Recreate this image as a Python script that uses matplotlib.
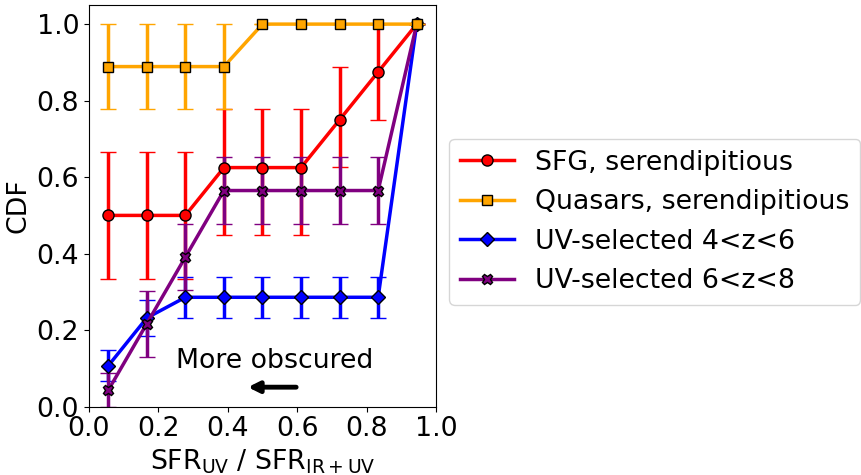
import numpy as np
import matplotlib
matplotlib.use('Agg')
import matplotlib.pyplot as plt
from matplotlib.lines import Line2D

# bin centres of SFR_UV / SFR_IR+UV
x_bins = [0.0556, 0.1667, 0.2778, 0.3889, 0.5, 0.6111, 0.7222, 0.8333, 0.9444]

sfg_cdf = [0.5, 0.5, 0.5, 0.625, 0.625, 0.625, 0.75, 0.875, 1.0]
sfg_err_lo = [0.167, 0.167, 0.167, 0.176, 0.176, 0.176, 0.124, 0.125, 0.0]
sfg_err_hi = [0.167, 0.167, 0.167, 0.154, 0.154, 0.154, 0.138, 0.125, 0.0]

qso_cdf = [0.889, 0.889, 0.889, 0.889, 1.0, 1.0, 1.0, 1.0, 1.0]
qso_err = [0.111, 0.111, 0.111, 0.111, 0.0, 0.0, 0.0, 0.0, 0.0]

uv46_cdf = [0.107, 0.232, 0.286, 0.286, 0.286, 0.286, 0.286, 0.286, 1.0]
uv46_err = [0.041, 0.048, 0.054, 0.054, 0.054, 0.054, 0.054, 0.054, 0.0]

uv68_cdf = [0.043, 0.217, 0.391, 0.565, 0.565, 0.565, 0.565, 0.565, 1.0]
uv68_err = [0.044, 0.086, 0.087, 0.087, 0.087, 0.087, 0.087, 0.087, 0.0]

plt.rcParams['font.size'] = 19.3

fig = plt.figure(figsize=(8.62, 4.75), dpi=100)
ax = fig.add_axes([0.1032, 0.1438, 0.4026, 0.8457])

kw = dict(lw=2.5, capsize=6, capthick=2, elinewidth=2.5, mec='k', mew=1)

ax.errorbar(x_bins, sfg_cdf, yerr=[sfg_err_lo, sfg_err_hi], color='red',
            marker='o', ms=8, **kw)
ax.errorbar(x_bins, uv46_cdf, yerr=uv46_err, color='blue',
            marker='D', ms=7.5, **kw)
ax.errorbar(x_bins, uv68_cdf, yerr=uv68_err, color='purple',
            marker='X', ms=7.5, **kw)
ax.errorbar(x_bins, qso_cdf, yerr=qso_err, color='orange',
            marker='s', ms=7.5, zorder=3, **kw)

ax.text(0.25, 0.10, 'More obscured')
ax.annotate('', xy=(0.45, 0.051), xytext=(0.605, 0.051),
            arrowprops=dict(arrowstyle='-|>', color='k', lw=3.5,
                            mutation_scale=16))

ax.set_xlim(0, 1)
ax.set_ylim(0, 1.05)
ax.set_xticks([0.0, 0.2, 0.4, 0.6, 0.8, 1.0])
ax.set_xlabel(r'SFR$_{\rm UV}$ / SFR$_{\rm IR+UV}$')
ax.set_ylabel('CDF')

handles = [
    Line2D([], [], color='red', lw=2.5, marker='o', ms=8, mec='k'),
    Line2D([], [], color='orange', lw=2.5, marker='s', ms=7.5, mec='k'),
    Line2D([], [], color='blue', lw=2.5, marker='D', ms=7.5, mec='k'),
    Line2D([], [], color='purple', lw=2.5, marker='X', ms=7.5, mec='k'),
]
labels = ['SFG, serendipitious', 'Quasars, serendipitious',
          'UV-selected 4<z<6', 'UV-selected 6<z<8']
ax.legend(handles, labels, loc='center left', bbox_to_anchor=(1.0, 0.46))

fig.savefig('out.png', dpi=100)
